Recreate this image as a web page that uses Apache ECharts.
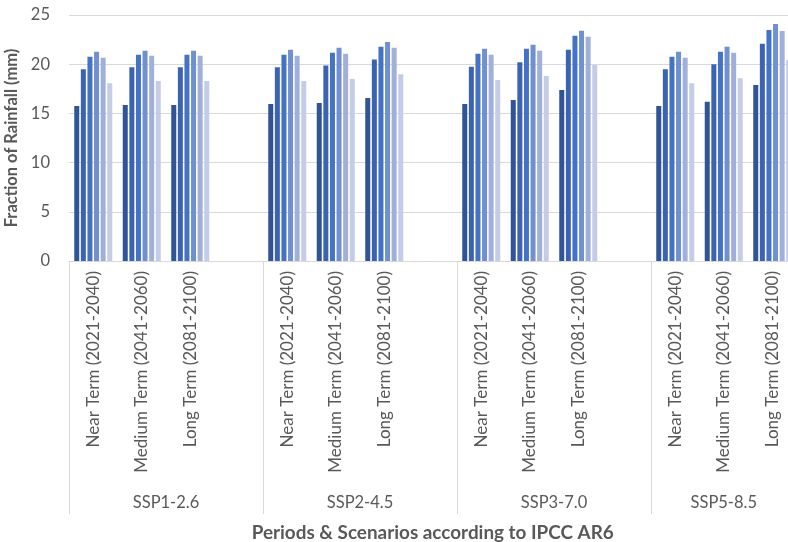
<!DOCTYPE html>
<html>
<head>
<meta charset="utf-8">
<script src="https://cdn.jsdelivr.net/npm/echarts@6/dist/echarts.min.js"></script>
<style>
  html, body { margin: 0; padding: 0; background: #fff; }
  #chart { width: 788px; height: 542px; }
</style>
</head>
<body>
<div id="chart"></div>
<script>
// Scenarios and periods along the x-axis
const scenarios = ['SSP1-2.6', 'SSP2-4.5', 'SSP3-7.0', 'SSP5-8.5'];
const periods = ['Near Term (2021-2040)', 'Medium Term (2041-2060)', 'Long Term (2081-2100)'];
const yTicks = [0, 5, 10, 15, 20, 25];

// Six bars per period, values in scenario order (Near, Medium, Long for each scenario)
const bar1 = [15.75, 15.85, 15.85,  15.95, 16.06, 16.56,  15.95, 16.36, 17.38,  15.75, 16.19, 17.89];
const bar2 = [19.48, 19.68, 19.68,  19.68, 19.88, 20.49,  19.75, 20.19, 21.47,  19.48, 19.99, 22.08];
const bar3 = [20.76, 20.97, 20.97,  20.97, 21.17, 21.78,  21.07, 21.58, 22.90,  20.76, 21.27, 23.48];
const bar4 = [21.27, 21.37, 21.37,  21.47, 21.68, 22.26,  21.58, 21.98, 23.40,  21.27, 21.78, 24.09];
const bar5 = [20.66, 20.86, 20.86,  20.86, 21.07, 21.68,  20.97, 21.37, 22.80,  20.66, 21.17, 23.37];
const bar6 = [18.06, 18.29, 18.29,  18.29, 18.50, 18.97,  18.39, 18.80, 19.92,  18.06, 18.57, 20.43];

const barSets = [bar1, bar2, bar3, bar4, bar5, bar6];
const barColors = ['#2f5597', '#3b63b2', '#4472c4', '#7090cf', '#a1b0db', '#c4cce7'];

// Build the category slots: three periods per scenario followed by an empty spacer slot
const categories = [];
const slotIndex = []; // maps value index -> slot position
scenarios.forEach((s, si) => {
  periods.forEach((p) => {
    slotIndex.push(categories.length);
    categories.push(p);
  });
  if (si < scenarios.length - 1) categories.push('');
});
const slotsPerGroup = periods.length + 1;

function toSlots(values) {
  const out = categories.map(() => null);
  values.forEach((v, i) => { out[slotIndex[i]] = v; });
  return out;
}

// Scenario label positions on a value scale spanning the slots
const scenarioCenters = scenarios.map((s, i) => {
  const start = i * slotsPerGroup;
  const end = Math.min(start + slotsPerGroup, categories.length);
  return (start + end) / 2;
});

const textColor = '#595959';
const gridColor = '#d9d9d9';
const fontFamily = 'Lato, "Open Sans", sans-serif';

const chart = echarts.init(document.getElementById('chart'));
chart.setOption({
  animation: false,
  backgroundColor: '#ffffff',
  textStyle: { fontFamily: fontFamily },
  // plot area runs slightly past the right edge of the canvas
  grid: {
    left: 69, width: 727.5, top: 15, bottom: 281,
    containLabel: false,
    outerBoundsMode: 'none'
  },
  xAxis: [
    {
      type: 'category',
      data: categories,
      boundaryGap: true,
      axisLine: { show: true, lineStyle: { color: gridColor, width: 1 } },
      axisTick: {
        show: true,
        length: 253,
        interval: (index) => index % slotsPerGroup === 0,
        lineStyle: { color: gridColor, width: 1 }
      },
      axisLabel: {
        interval: 0,
        rotate: 90,
        margin: 10,
        color: textColor,
        fontSize: 17,
        fontFamily: fontFamily
      }
    },
    {
      type: 'value',
      position: 'bottom',
      offset: 225,
      min: 0,
      max: categories.length,
      interval: 0.5,
      axisLine: { show: false },
      axisTick: { show: false },
      splitLine: { show: false },
      axisLabel: {
        color: textColor,
        fontSize: 16.5,
        fontFamily: fontFamily,
        margin: 8,
        showMinLabel: true,
        showMaxLabel: true,
        formatter: (v) => {
          const k = scenarioCenters.findIndex(c => Math.abs(c - v) < 1e-6);
          return k >= 0 ? scenarios[k] : '';
        }
      },
      name: 'Periods & Scenarios according to IPCC AR6',
      nameLocation: 'middle',
      nameGap: 37,
      nameTextStyle: { color: textColor, fontSize: 18.9, fontWeight: 'bold', fontFamily: fontFamily }
    }
  ],
  yAxis: {
    type: 'value',
    min: yTicks[0],
    max: yTicks[yTicks.length - 1],
    interval: 5,
    axisLine: { show: false },
    axisTick: { show: false },
    splitLine: { lineStyle: { color: gridColor, width: 1 } },
    axisLabel: { color: textColor, fontSize: 16.5, margin: 19, fontFamily: fontFamily },
    name: 'Fraction of Rainfall (mm)',
    nameLocation: 'middle',
    nameRotate: 90,
    nameGap: 44,
    nameTextStyle: { color: textColor, fontSize: 16.5, fontWeight: 'bold', fontFamily: fontFamily }
  },
  series: barSets.map((vals, i) => ({
    name: 'Bar ' + (i + 1),
    type: 'bar',
    xAxisIndex: 0,
    data: toSlots(vals),
    barWidth: 5,
    barGap: '32%',
    itemStyle: { color: barColors[i] }
  }))
});
</script>
</body>
</html>
